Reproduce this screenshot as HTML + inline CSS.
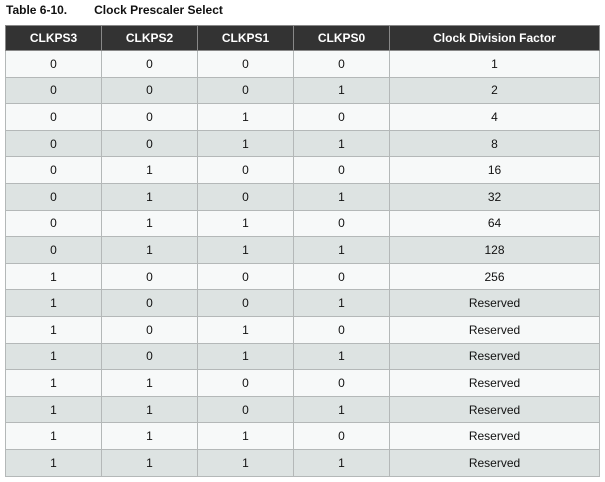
<!DOCTYPE html>
<html><head><meta charset="utf-8"><style>
body{margin:0;width:605px;height:482px;background:#fff;font-family:"Liberation Sans",Arial,sans-serif;position:relative;overflow:hidden}
.title{position:absolute;left:6px;top:3px;font-size:12px;font-weight:bold;color:#111}
.title span{margin-left:27px}
table{position:absolute;left:5px;top:25px;border-collapse:collapse;table-layout:fixed;width:594px}
td,th{border:1px solid #b4b8b8;text-align:center;font-size:12px;height:25.6px;padding:0;color:#111}
th{background:#333;color:#fff;font-weight:bold;height:24px;border-color:#888}
tr.o td{background:#f7f9f9}
tr.e td{background:#dde3e2}
</style></head><body>
<div class="title">Table 6-10.<span>Clock Prescaler Select</span></div>
<table>
<colgroup><col style="width:96px"><col style="width:96px"><col style="width:96px"><col style="width:96px"><col style="width:210px"></colgroup>
<thead><tr><th>CLKPS3</th><th>CLKPS2</th><th>CLKPS1</th><th>CLKPS0</th><th>Clock Division Factor</th></tr></thead>
<tbody>
<tr class="o"><td>0</td><td>0</td><td>0</td><td>0</td><td>1</td></tr>
<tr class="e"><td>0</td><td>0</td><td>0</td><td>1</td><td>2</td></tr>
<tr class="o"><td>0</td><td>0</td><td>1</td><td>0</td><td>4</td></tr>
<tr class="e"><td>0</td><td>0</td><td>1</td><td>1</td><td>8</td></tr>
<tr class="o"><td>0</td><td>1</td><td>0</td><td>0</td><td>16</td></tr>
<tr class="e"><td>0</td><td>1</td><td>0</td><td>1</td><td>32</td></tr>
<tr class="o"><td>0</td><td>1</td><td>1</td><td>0</td><td>64</td></tr>
<tr class="e"><td>0</td><td>1</td><td>1</td><td>1</td><td>128</td></tr>
<tr class="o"><td>1</td><td>0</td><td>0</td><td>0</td><td>256</td></tr>
<tr class="e"><td>1</td><td>0</td><td>0</td><td>1</td><td>Reserved</td></tr>
<tr class="o"><td>1</td><td>0</td><td>1</td><td>0</td><td>Reserved</td></tr>
<tr class="e"><td>1</td><td>0</td><td>1</td><td>1</td><td>Reserved</td></tr>
<tr class="o"><td>1</td><td>1</td><td>0</td><td>0</td><td>Reserved</td></tr>
<tr class="e"><td>1</td><td>1</td><td>0</td><td>1</td><td>Reserved</td></tr>
<tr class="o"><td>1</td><td>1</td><td>1</td><td>0</td><td>Reserved</td></tr>
<tr class="e"><td>1</td><td>1</td><td>1</td><td>1</td><td>Reserved</td></tr>
</tbody></table>
</body></html>
